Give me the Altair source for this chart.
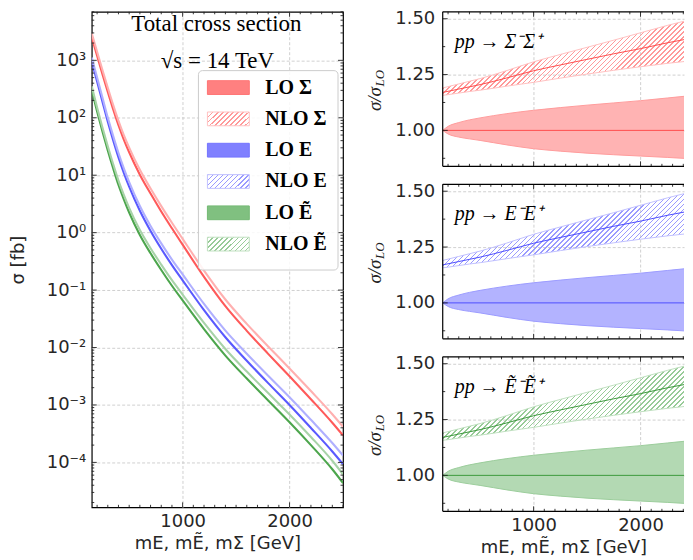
import altair as alt
import pandas as pd

# ---------------- values ----------------
mass = [150, 200, 250, 300, 350, 400, 450, 500, 600, 700, 800, 900, 1000,
        1200, 1400, 1600, 1800, 2000, 2200, 2400, 2500]
# LO cross sections [fb]
lo_Sigma = [2512, 1202, 575, 282, 141, 74.1, 41.7, 25.1, 10.2, 4.79, 2.34, 1.19, 0.617,
            0.170, 0.0525, 0.0195, 0.00776, 0.00316, 0.00126, 0.00049, 0.000295]
lo_E = [955, 427, 191, 85.1, 40.7, 20.4, 11.0, 6.31, 2.40, 1.07, 0.525, 0.272, 0.148,
        0.0447, 0.0151, 0.00589, 0.0024, 0.001, 0.000398, 0.000155, 0.0000933]
lo_Et = [302, 129, 57.5, 26.9, 13.2, 6.76, 3.80, 2.24, 0.912, 0.437, 0.224, 0.119, 0.0661,
         0.0209, 0.00724, 0.00288, 0.0012, 0.000501, 0.0002, 0.0000759, 0.0000437]
# NLO / LO (central)
k_nlo = [1.17, 1.175, 1.18, 1.185, 1.19, 1.195, 1.20, 1.205, 1.215, 1.225, 1.24, 1.25, 1.265,
         1.285, 1.305, 1.325, 1.345, 1.365, 1.385, 1.405, 1.415]

ratio_mass = [150, 200, 300, 400, 500, 750, 1000, 1250, 1500, 1750, 2000, 2250, 2500]
lo_up = [1.000, 1.018, 1.035, 1.047, 1.056, 1.075, 1.090, 1.102, 1.113, 1.123, 1.133, 1.145, 1.157]
lo_dn = [1.000, 0.984, 0.970, 0.962, 0.955, 0.935, 0.918, 0.907, 0.898, 0.891, 0.885, 0.879, 0.872]
nlo_c = [1.170, 1.175, 1.185, 1.195, 1.205, 1.235, 1.267, 1.293, 1.318, 1.343, 1.366, 1.392, 1.415]
nlo_up = [1.190, 1.196, 1.208, 1.220, 1.232, 1.268, 1.307, 1.340, 1.372, 1.404, 1.437, 1.470, 1.500]
nlo_dn = [1.157, 1.160, 1.167, 1.174, 1.180, 1.198, 1.215, 1.234, 1.252, 1.269, 1.285, 1.300, 1.313]

models = ["Σ", "E", "Ẽ"]
process_labels = ["pp → Σ⁻Σ⁺", "pp → E⁻E⁺", "pp → Ẽ⁻Ẽ⁺"]
legend_labels = ["LO Σ", "NLO Σ", "LO E", "NLO E", "LO Ẽ", "NLO Ẽ"]
title_lines = ["Total cross section", "√s = 14 TeV"]
x_title = "mE, mẼ, mΣ [GeV]"
x_major = [1000, 2000]
x_minor = [200, 300, 400, 500, 600, 700, 800, 900, 1100, 1200, 1300, 1400, 1500,
           1600, 1700, 1800, 1900, 2100, 2200, 2300, 2400, 2500]
y_decades = [1e-4, 1e-3, 1e-2, 1e-1, 1, 10, 100, 1000]
r_major = [1.0, 1.25, 1.5]
r_minor = [0.875, 1.125, 1.375]

# ---------------- styles ----------------
pal = {
    "Σ": dict(lo_line="#ff5a5a", nlo_line="#ffb0b0", sw="#ff8080", sw_edge="#ff7373",
              hatch="#ff9a9a", hatch_edge="#ffc2c2", band="#ffb3b3", band_edge="#ff9c9c",
              center="#ff4d4d"),
    "E": dict(lo_line="#5a5aff", nlo_line="#b0b0ff", sw="#8080ff", sw_edge="#7373ff",
              hatch="#9a9aff", hatch_edge="#c2c2ff", band="#b3b3ff", band_edge="#9c9cff",
              center="#4d4dff"),
    "Ẽ": dict(lo_line="#4da64d", nlo_line="#a8d3a8", sw="#80c080", sw_edge="#73b973",
              hatch="#98cb98", hatch_edge="#c0e0c0", band="#b3d9b3", band_edge="#9ccd9c",
              center="#3d9a3d"),
}
FONT = "DejaVu Sans"
SERIF = "Liberation Serif"
PX_PER_GEV = 252 / 2350.0


def hatch(color, W, H, period=5.0, frac=0.3):
    """Diagonal '///' hatch as a hard-stop linear gradient in bbox units."""
    L = W + H
    s = L * W / (W * W + H * H)
    n = max(1, int(round(L / period)))
    clear = "rgba(255,255,255,0)"
    stops = []
    for i in range(n):
        a, b, c = i / n, (i + frac) / n, (i + 1) / n
        stops += [{"offset": a, "color": color}, {"offset": b, "color": color},
                  {"offset": b, "color": clear}, {"offset": c, "color": clear}]
    return {"gradient": "linear", "x1": 0, "y1": 0, "x2": s, "y2": s * H / W, "stops": stops}


def tick_layers(W, H, xscale, yscale, xaxis, yaxis, xmaj, xmin, ymaj, ymin,
                maj=5, mnr=2.5, right=True):
    out = []
    for vals, ln in ((xmaj, maj), (xmin, mnr)):
        d = pd.DataFrame({"v": vals})
        for y0, y1 in ((H, H - ln), (0, ln)):
            out.append(alt.Chart(d).mark_rule(color="#222", strokeWidth=0.9).encode(
                x=alt.X("v:Q", scale=xscale, axis=xaxis), y=alt.value(y0), y2=alt.value(y1)))
    sides = ((0, "l"), (W, "r")) if right else ((0, "l"),)
    for vals, ln in ((ymaj, maj), (ymin, mnr)):
        d = pd.DataFrame({"v": vals})
        for x0, side in sides:
            x1 = x0 + ln if side == "l" else x0 - ln
            out.append(alt.Chart(d).mark_rule(color="#222", strokeWidth=0.9).encode(
                y=alt.Y("v:Q", scale=yscale, axis=yaxis), x=alt.value(x0), x2=alt.value(x1)))
    return out


# ---------------- left panel ----------------
WL, HL = 252, 497
ydom = [1.65e-5, 7000]
xsL = alt.Scale(domain=[150, 2500], nice=False, zero=False)
ysL = alt.Scale(type="log", domain=ydom, nice=False)

rows = []
for mdl, lo in zip(models, [lo_Sigma, lo_E, lo_Et]):
    for m, s, k in zip(mass, lo, k_nlo):
        rows.append({"m": m, "sigma": s, "series": f"LO {mdl}"})
        rows.append({"m": m, "sigma": s * k, "series": f"NLO {mdl}"})
curves = pd.DataFrame(rows)
series_colors = []
for mdl in models:
    series_colors += [pal[mdl]["lo_line"], pal[mdl]["nlo_line"]]

sup = {3: "³", 2: "²", 1: "¹", 0: "⁰", -1: "⁻¹", -2: "⁻²", -3: "⁻³", -4: "⁻⁴"}
E = "round(log(datum.value)/LN10)"
label_expr = "'10' + (" + " : ".join(f"{E} == {k} ? '{v}'" for k, v in sup.items()) + " : '')"

xaxL = alt.Axis(values=x_major, format="d", title=x_title, grid=True, labelPadding=5, titlePadding=4)
yaxL = alt.Axis(values=y_decades, labelExpr=label_expr, title="σ [fb]", grid=True,
                labelPadding=6, titlePadding=19)

lines = alt.Chart(curves).mark_line(strokeWidth=2.1, clip=True, interpolate="monotone").encode(
    x=alt.X("m:Q", scale=xsL, axis=xaxL),
    y=alt.Y("sigma:Q", scale=ysL, axis=yaxL),
    color=alt.Color("series:N", scale=alt.Scale(domain=legend_labels, range=series_colors), legend=None),
)

y_minor_log = [k * 10.0 ** e for e in range(-5, 4) for k in range(2, 10)
               if ydom[0] <= k * 10.0 ** e <= ydom[1]]
main_left = alt.layer(lines, *tick_layers(WL, HL, xsL, ysL, xaxL, yaxL, x_major, x_minor,
                                          y_decades, y_minor_log))

# legend (drawn inside the panel)
leg = pd.DataFrame({"label": legend_labels, "row": list(range(6)),
                    "model": [m for m in models for _ in range(2)],
                    "kind": ["LO", "NLO"] * 3})
leg["top"] = leg["row"] - 0.22
leg["bot"] = leg["row"] + 0.22
leg_scale = alt.Scale(domain=[0, 5], range=[76, 233])

frame = alt.Chart(pd.DataFrame({"a": [0]})).mark_rect(
    fill="white", fillOpacity=0.85, stroke="#cccccc", strokeWidth=1, cornerRadius=4).encode(
    x=alt.value(107), x2=alt.value(247), y=alt.value(59), y2=alt.value(259))

sw_layers = []
for mdl in models:
    p = pal[mdl]
    sub = alt.Chart(leg)
    sw_layers.append(sub.transform_filter(
        (alt.datum.model == mdl) & (alt.datum.kind == "LO")).mark_rect(
        fill=p["sw"], stroke=p["sw_edge"], strokeWidth=1).encode(
        x=alt.value(116), x2=alt.value(158),
        y=alt.Y("top:Q", scale=leg_scale, axis=None), y2="bot:Q"))
    sw_layers.append(sub.transform_filter(
        (alt.datum.model == mdl) & (alt.datum.kind == "NLO")).mark_rect(
        fill=hatch(p["hatch"], 42, 14), stroke=p["hatch_edge"], strokeWidth=1).encode(
        x=alt.value(116), x2=alt.value(158),
        y=alt.Y("top:Q", scale=leg_scale, axis=None), y2="bot:Q"))

leg_text = alt.Chart(leg).mark_text(font=SERIF, fontWeight="bold", fontSize=20, align="left",
                                    baseline="middle", color="black").encode(
    x=alt.value(174), y=alt.Y("row:Q", scale=leg_scale, axis=None), text="label:N")

ttl = pd.DataFrame({"t": title_lines})
t1 = alt.Chart(ttl).transform_filter(alt.datum.t == title_lines[0]).mark_text(
    font=SERIF, fontSize=23, color="black", baseline="middle").encode(
    x=alt.value(125), y=alt.value(12), text="t:N")
t2 = alt.Chart(ttl).transform_filter(alt.datum.t == title_lines[1]).mark_text(
    font=SERIF, fontSize=23, color="black", baseline="middle").encode(
    x=alt.value(126), y=alt.value(49), text="t:N")

left = alt.layer(main_left, frame, *sw_layers, leg_text, t1, t2).resolve_scale(
    y="independent").properties(width=WL, height=HL)

# ---------------- right panels ----------------
WR, HR = 242, 155
x_max_R = 150 + WR / PX_PER_GEV          # panel is cut at the page edge
rdom = [0.839, 1.531]
ratio = pd.DataFrame({"m": ratio_mass, "lo_up": lo_up, "lo_dn": lo_dn,
                      "nlo_c": nlo_c, "nlo_up": nlo_up, "nlo_dn": nlo_dn})
W_area = (max(ratio_mass) - min(ratio_mass)) * PX_PER_GEV
H_area = (max(nlo_up) - min(nlo_dn)) / (rdom[1] - rdom[0]) * HR
x_minor_R = [v for v in x_minor if v <= x_max_R]


def ratio_panel(i):
    mdl = models[i]
    p = pal[mdl]
    bottom = i == 2
    xs = alt.Scale(domain=[150, x_max_R], nice=False, zero=False)
    ys = alt.Scale(domain=rdom, nice=False, zero=False)
    if bottom:
        xax = alt.Axis(values=x_major, format="d", title=x_title, grid=True,
                       labelPadding=5, titlePadding=4)
    else:
        xax = alt.Axis(values=x_major, labels=False, title=None, grid=True)
    yax = alt.Axis(values=r_major, format=".2f", title=None, grid=True, labelPadding=8)
    base = alt.Chart(ratio)
    X = alt.X("m:Q", scale=xs, axis=xax)
    lo_band = base.mark_area(fill=p["band"], stroke=p["band_edge"], strokeWidth=1,
                             clip=True, interpolate="monotone").encode(
        x=X, y=alt.Y("lo_dn:Q", scale=ys, axis=yax), y2="lo_up:Q")
    lo_line = alt.Chart(pd.DataFrame({"a": [0]})).mark_rule(
        color=p["center"], strokeWidth=1).encode(y=alt.datum(1.0))
    nlo_band = base.mark_area(fill=hatch(p["hatch"], W_area, H_area), stroke=p["hatch_edge"],
                              strokeWidth=1, clip=True, interpolate="monotone").encode(
        x=X, y=alt.Y("nlo_dn:Q", scale=ys, axis=yax), y2="nlo_up:Q")
    nlo_line = base.mark_line(color=p["center"], strokeWidth=1, clip=True,
                              interpolate="monotone").encode(
        x=X, y=alt.Y("nlo_c:Q", scale=ys, axis=yax))
    one = pd.DataFrame({"a": [0]})
    spines = [
        alt.Chart(one).mark_rule(color="black", strokeWidth=1.2).encode(
            x=alt.value(0), y=alt.value(0), y2=alt.value(HR)),
        alt.Chart(one).mark_rule(color="black", strokeWidth=1.2).encode(
            x=alt.value(0), x2=alt.value(WR), y=alt.value(0)),
        alt.Chart(one).mark_rule(color="black", strokeWidth=1.2).encode(
            x=alt.value(0), x2=alt.value(WR), y=alt.value(HR)),
    ]
    lab = alt.Chart(pd.DataFrame({"t": [process_labels[i]]})).mark_text(
        font=SERIF, fontSize=20, fontStyle="italic", align="left", baseline="middle",
        color="black").encode(x=alt.value(12), y=alt.value(30), text="t:N")
    yt1 = alt.Chart(pd.DataFrame({"t": ["σ/σ"]})).mark_text(
        font=SERIF, fontSize=19, fontStyle="italic", angle=270, align="center",
        baseline="middle", color="#222").encode(x=alt.value(-68), y=alt.value(HR / 2 + 10), text="t:N")
    yt2 = alt.Chart(pd.DataFrame({"t": ["LO"]})).mark_text(
        font=SERIF, fontSize=13, fontStyle="italic", angle=270, align="center",
        baseline="middle", color="#222").encode(x=alt.value(-63), y=alt.value(HR / 2 - 11), text="t:N")
    ticks = tick_layers(WR, HR, xs, ys, xax, yax, x_major, x_minor_R, r_major, r_minor, right=False)
    return alt.layer(lo_band, lo_line, nlo_band, nlo_line, *ticks, *spines, lab, yt1, yt2).properties(
        width=WR, height=HR, view=alt.ViewBackground(strokeOpacity=0))


right = alt.vconcat(*[ratio_panel(i) for i in range(3)], spacing=14).resolve_scale(
    x="independent", y="independent")

chart = alt.hconcat(left, right, spacing=21).resolve_scale(
    x="independent", y="independent").properties(
    padding={"left": 0, "top": 0, "right": 0, "bottom": 0}).configure_view(
    stroke="black", strokeWidth=1.2).configure_axis(
    labelFont=FONT, labelFontSize=18, labelColor="#262626", titleFont=FONT,
    titleFontSize=18, titleFontWeight="normal", titleColor="#262626",
    domain=False, ticks=False, gridColor="#c4c4c4", gridDash=[3, 2], gridWidth=0.8)

chart.save("out.html", embed_options={"renderer": "svg", "actions": False})
